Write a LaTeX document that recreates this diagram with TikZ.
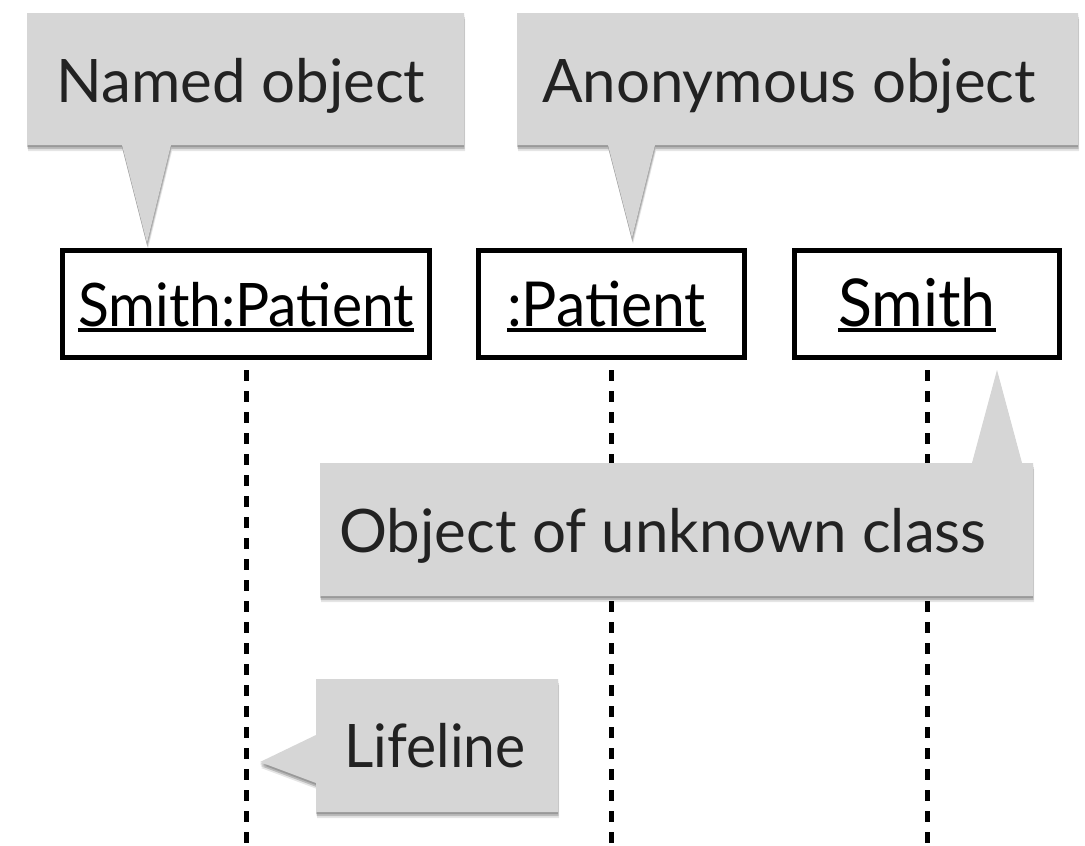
\documentclass[tikz,border=0pt]{standalone}
\usepackage{fontspec}
\setmainfont{Lato}
\newfontfamily\boxfont[FakeStretch=0.95]{Lato}
\definecolor{cgray}{HTML}{D6D6D6}
\definecolor{ctext}{HTML}{222222}
\newcommand\myul[1]{\setbox0\hbox{#1}\rlap{\rule[-6pt]{\wd0}{4pt}}\box0}
\begin{document}
\begin{tikzpicture}[x=1pt,y=-1pt,
  callout/.style={fill=cgray,
    preaction={fill=black, opacity=0.10, transform canvas={yshift=-6pt, xshift=1pt}},
    preaction={fill=black, opacity=0.18, transform canvas={yshift=-4pt, xshift=0.5pt}},
    preaction={fill=black, opacity=0.18, transform canvas={yshift=-2pt}}},
  ctxt/.style={text=ctext, font=\fontsize{60}{72}\selectfont, text height=44pt, text depth=0pt, inner sep=0pt},
  objbox/.style={draw=black, line width=5.5pt, fill=white, font=\boxfont\fontsize{60}{72}\selectfont,
    text height=44pt, text depth=0pt, inner sep=0pt, minimum height=107pt},
  lifeline/.style={line width=5pt, dash pattern=on 11pt off 10pt}]
\useasboundingbox (0,0) rectangle (1085,846);
\fill[white] (0,0) rectangle (1085,846);
\coordinate (bot) at (0,846);
% object boxes
\node[objbox, minimum width=367pt] (b1) at (246,304) {\myul{Smith:Patient}};
\node[objbox, minimum width=266pt] (b2) at (611.5,304) {\hspace*{-10pt}\myul{\fontsize{62}{72}\selectfont:Patient}};
\node[objbox, minimum width=265pt] (b3) at (927,304) {\hspace*{-20pt}\myul{\fontsize{66}{72}\selectfont Smith}};
% lifelines
\draw[lifeline] ([yshift=-10pt]b1.south) -- (b1.south |- bot);
\draw[lifeline] ([yshift=-10pt]b2.south) -- (b2.south |- bot);
\draw[lifeline] ([yshift=-10pt]b3.south) -- (b3.south |- bot);
% callouts
\path[callout] (27,13) -- (464,13) -- (464,145) -- (171,145) -- (147,243) -- (122,145) -- (27,145) -- cycle;
\node[ctxt] (tA) at (241,80) {Named object};
\path[callout] (517,13) -- (1078,13) -- (1078,145) -- (655,145) -- (632,238) -- (608,145) -- (517,145) -- cycle;
\node[ctxt] (tB) at (789,80) {Anonymous object};
\path[callout] (320,463) -- (972,463) -- (997,370) -- (1022,463) -- (1033,463) -- (1033,596) -- (320,596) -- cycle;
\node[ctxt] (tC) at (663,530) {Object of unknown class};
\path[callout] (316,679) -- (558,679) -- (558,812) -- (316,812) -- (316,783) -- (260,762) -- (316,735) -- cycle;
\node[ctxt, font=\boxfont\fontsize{60}{72}\selectfont] (tD) at (435,745) {Lifeline};
\end{tikzpicture}
\end{document}
